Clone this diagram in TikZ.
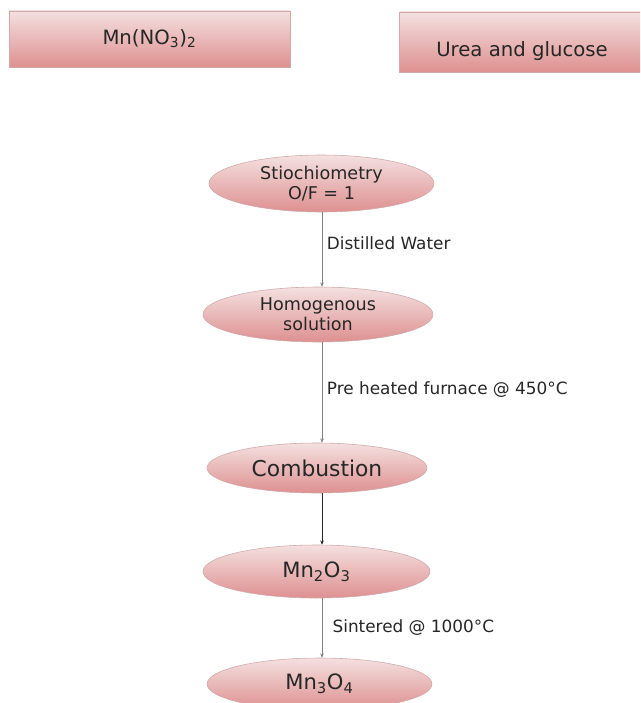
\documentclass[tikz,border=0pt]{standalone}
\usepackage{fontspec}
\setmainfont{DejaVu Sans}
\usepackage{tikz}
\usetikzlibrary{shapes.geometric,arrows.meta}

\definecolor{pinktop}{HTML}{F4E0E0}
\definecolor{pinkbot}{HTML}{DE9090}
\definecolor{rim}{HTML}{D0A8A8}
\definecolor{ink}{HTML}{262626}

\tikzset{
    startbox/.style={draw=rim, top color=pinktop, bottom color=pinkbot,
        rectangle, inner sep=0pt, text=ink},
    stagebox/.style={draw=rim, top color=pinktop, bottom color=pinkbot,
        ellipse, inner sep=0pt, align=center, text=ink, font=\fontsize{12.5}{14.5}\selectfont},
    feed/.style={draw=gray, thin, -{Stealth[length=3pt,width=2.5pt]}},
    feedlabel/.style={anchor=west, text=ink, font=\fontsize{12}{13}\selectfont},
}

\begin{document}
\begin{tikzpicture}
    [
        x=0.025cm, y=-0.025cm,
    ]
    
    \useasboundingbox (0, 0) rectangle (640, 703);
    \clip (0, 0) rectangle (640, 703);
    
    % starting materials
    \node [startbox, minimum width=281*0.025cm, minimum height=56*0.025cm,
        font=\fontsize{14}{15}\selectfont] (nitrate) at (149.5, 39) {Mn(NO\textsubscript{3})\textsubscript{2}};
    \node [startbox, minimum width=245*0.025cm, minimum height=60*0.025cm,
        font=\fontsize{14}{15}\selectfont] (fuel) at (522, 42)
        {\raisebox{-10.5pt}[0pt][0pt]{Urea and glucose}};
    
    % process stages
    \node [stagebox, minimum width=225*0.025cm, minimum height=57*0.025cm]
        (stoich) at (321.5, 183.5) {Stiochiometry\\O/F = 1};
    \node [stagebox, minimum width=230*0.025cm, minimum height=55*0.025cm]
        (homog) at (318, 314.5) {Homogenous\\solution};
    \node [stagebox, minimum width=220*0.025cm, minimum height=50*0.025cm,
        font=\fontsize{15.5}{17}\selectfont] (combust) at (317, 468) {Combustion};
    \node [stagebox, minimum width=227*0.025cm, minimum height=53*0.025cm,
        font=\fontsize{15}{17}\selectfont] (mntwo) at (316.5, 571.5) {Mn\textsubscript{2}O\textsubscript{3}};
    \node [stagebox, minimum width=225*0.025cm, minimum height=52*0.025cm,
        font=\fontsize{15}{17}\selectfont] (mnthree) at (319.5, 684) {Mn\textsubscript{3}O\textsubscript{4}};
    
    % connectors
    \draw [feed] (stoich.south -| 322, 0) -- (homog.north -| 322, 0)
        node [feedlabel, midway, yshift=4.5pt, xshift=0pt] {Distilled Water};
    \draw [feed] (homog.south -| 322, 0) -- (combust.north -| 322, 0)
        node [feedlabel, midway, yshift=2pt, xshift=0pt] {Pre heated furnace @ 450°C};
    \draw [feed, draw=ink] (combust.south -| 322, 0) -- (mntwo.north -| 322, 0);
    \draw [feed] (mntwo.south -| 322, 0) -- (mnthree.north -| 322, 0)
        node [feedlabel, midway, xshift=4pt] {Sintered @ 1000°C};
    
\end{tikzpicture}
\end{document}
